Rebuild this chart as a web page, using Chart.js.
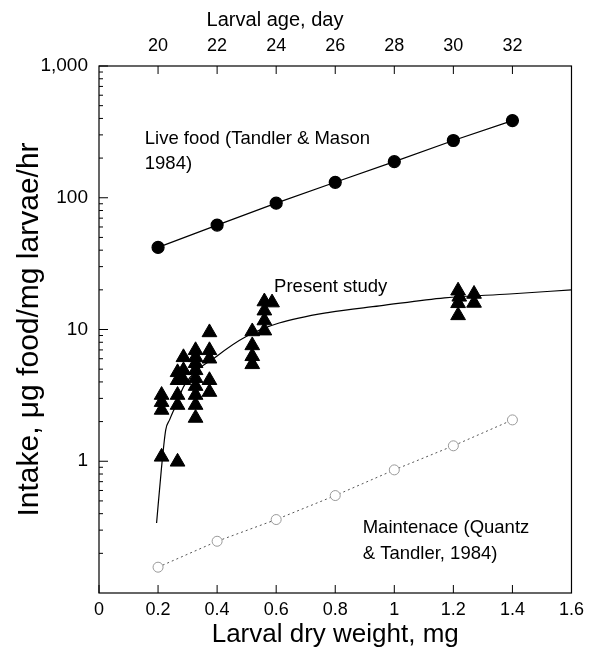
<!DOCTYPE html>
<html>
<head>
<meta charset="utf-8">
<script src="https://cdn.jsdelivr.net/npm/chart.js@4"></script>
<style>
  html, body { margin: 0; background: #fff; }
</style>
</head>
<body>
<canvas id="chart" width="590" height="656"></canvas>
<script>
// axis ticks
const weightTicks = [0, 0.2, 0.4, 0.6, 0.8, 1, 1.2, 1.4, 1.6];
const ageTicks = [20, 22, 24, 26, 28, 30, 32];
const intakeTicks = [1, 10, 100, 1000];

// live food (Tandler & Mason 1984)
const liveWeight = [0.2, 0.4, 0.6, 0.8, 1.0, 1.2, 1.4];
const liveIntake = [42, 62, 91, 131, 188, 272, 385];

// maintenance (Quantz & Tandler 1984)
const maintWeight = [0.2, 0.4, 0.6, 0.8, 1.0, 1.2, 1.4];
const maintIntake = [0.157, 0.247, 0.361, 0.549, 0.86, 1.31, 2.06];

// present study, fitted curve
const curveWeight = [0.195, 0.211, 0.226, 0.239, 0.256, 0.29, 0.4, 0.5, 0.61, 0.78, 0.95, 1.17, 1.39, 1.6];
const curveIntake = [0.34, 0.86, 1.73, 2.06, 2.53, 3.8, 6.3, 8.9, 11.2, 13.5, 15.1, 17.4, 18.6, 20];

// present study, measured
const triWeight = [
  0.212, 0.212, 0.212, 0.212,
  0.266, 0.266, 0.266, 0.266, 0.266,
  0.286, 0.286, 0.286,
  0.327, 0.327, 0.327, 0.327, 0.327, 0.327, 0.327, 0.327, 0.327,
  0.374, 0.374, 0.374, 0.374, 0.374,
  0.519, 0.519, 0.519, 0.519,
  0.56, 0.56, 0.56, 0.56, 0.586,
  1.216, 1.216, 1.216, 1.22, 1.27, 1.27
];
const triIntake = [
  3.18, 2.81, 2.45, 1.08,
  4.73, 4.12, 3.18, 2.67, 0.99,
  6.15, 4.9, 4.12,
  6.95, 6.15, 5.54, 4.9, 4.27, 3.72, 3.18, 2.67, 2.13,
  9.5, 6.95, 6.0, 4.12, 3.35,
  9.66, 7.57, 6.26, 5.44,
  16.3, 13.9, 11.7, 9.8, 16,
  19.7, 15.8, 12.8, 17.7, 18.6, 15.9
];

// text labels inside the plot: [text, weight, intake]
const notes = [
  ["Live food (Tandler & Mason", 0.155, 281],
  ["1984)", 0.155, 182],
  ["Present study", 0.593, 21],
  ["Maintenace (Quantz", 0.893, 0.31],
  ["& Tandler, 1984)", 0.893, 0.198]
];

const FONT = "'Liberation Sans', Arial, sans-serif";
const pts = (xs, ys) => xs.map((x, i) => ({ x, y: ys[i] }));

const framePlugin = {
  id: "frame",
  afterDatasetsDraw(chart) {
    const { ctx, chartArea: a, scales } = chart;
    ctx.save();
    ctx.strokeStyle = "#000";
    ctx.lineWidth = 1.2;
    ctx.strokeRect(a.left, a.top, a.right - a.left, a.bottom - a.top);

    const line = (x1, y1, x2, y2) => {
      ctx.beginPath();
      ctx.moveTo(x1, y1);
      ctx.lineTo(x2, y2);
      ctx.stroke();
    };
    ctx.lineWidth = 1;
    weightTicks.forEach(v => {
      const x = scales.x.getPixelForValue(v);
      line(x, a.bottom, x, a.bottom - 8);
    });
    ageTicks.forEach(v => {
      const x = scales.x2.getPixelForValue(v);
      line(x, a.top, x, a.top + 8);
    });
    [0.1, 1, 10, 100].forEach(d => {
      for (let m = 2; m <= 9; m++) {
        const y = scales.y.getPixelForValue(d * m);
        line(a.left, y, a.left + 4, y);
      }
    });
    intakeTicks.forEach(v => {
      const y = scales.y.getPixelForValue(v);
      line(a.left, y, a.left + 9, y);
    });

    // labels
    ctx.fillStyle = "#000";
    ctx.textBaseline = "middle";
    ctx.textAlign = "left";
    ctx.font = "18.5px " + FONT;
    notes.forEach(([t, x, y]) => {
      ctx.fillText(t, scales.x.getPixelForValue(x), scales.y.getPixelForValue(y));
    });
    ctx.textAlign = "center";
    ctx.font = "20px " + FONT;
    ctx.fillText("Larval age, day", 275, 20);
    ctx.restore();
  }
};

new Chart(document.getElementById("chart"), {
  type: "line",
  data: {
    datasets: [
      {
        label: "Present study fit",
        data: pts(curveWeight, curveIntake),
        borderColor: "#000",
        borderWidth: 1.2,
        pointRadius: 0,
        cubicInterpolationMode: "monotone",
        fill: false
      },
      {
        label: "Present study",
        data: pts(triWeight, triIntake),
        showLine: false,
        pointStyle: "triangle",
        pointRadius: 8.5,
        pointBackgroundColor: "#000",
        pointBorderColor: "#000",
        pointBorderWidth: 1
      },
      {
        label: "Live food",
        data: pts(liveWeight, liveIntake),
        borderColor: "#000",
        borderWidth: 1.2,
        pointRadius: 6,
        pointBackgroundColor: "#000",
        pointBorderColor: "#000"
      },
      {
        label: "Maintenance",
        data: pts(maintWeight, maintIntake),
        borderColor: "#555",
        borderWidth: 1,
        borderDash: [2, 3],
        pointRadius: 5,
        pointBackgroundColor: "#fff",
        pointBorderColor: "#999",
        pointBorderWidth: 1
      }
    ]
  },
  options: {
    responsive: false,
    animation: false,
    layout: { padding: { left: 0, right: 16, top: 0, bottom: 0 } },
    plugins: { legend: { display: false }, tooltip: { enabled: false } },
    scales: {
      x: {
        type: "linear",
        position: "bottom",
        min: 0,
        max: 1.6,
        afterBuildTicks: s => { s.ticks = weightTicks.map(v => ({ value: v })); },
        afterFit: s => { s.height = 63; },
        grid: { display: false, drawTicks: false },
        border: { display: false },
        ticks: {
          color: "#000",
          font: { family: FONT, size: 18 },
          padding: 6,
          maxRotation: 0,
          callback: v => String(+v.toFixed(1))
        },
        title: {
          display: true,
          text: "Larval dry weight, mg",
          color: "#000",
          font: { family: FONT, size: 26 },
          padding: { top: 0, bottom: 6 }
        }
      },
      x2: {
        type: "linear",
        position: "top",
        min: 18,
        max: 34,
        afterBuildTicks: s => { s.ticks = ageTicks.map(v => ({ value: v })); },
        afterFit: s => { s.height = 66; },
        grid: { display: false, drawTicks: false },
        border: { display: false },
        ticks: {
          color: "#000",
          font: { family: FONT, size: 18 },
          padding: 9,
          maxRotation: 0
        }
      },
      y: {
        type: "logarithmic",
        min: 0.1,
        max: 1000,
        afterBuildTicks: s => { s.ticks = intakeTicks.map(v => ({ value: v })); },
        afterFit: s => { s.width = 99; },
        grid: { display: false, drawTicks: false },
        border: { display: false },
        ticks: {
          color: "#000",
          font: { family: FONT, size: 19 },
          padding: 11,
          callback: v => v.toLocaleString("en-US")
        },
        title: {
          display: true,
          text: "Intake, μg food/mg larvae/hr",
          color: "#000",
          font: { family: FONT, size: 30 },
          padding: { top: 12, bottom: 0 }
        }
      }
    }
  },
  plugins: [framePlugin]
});
</script>
</body>
</html>
